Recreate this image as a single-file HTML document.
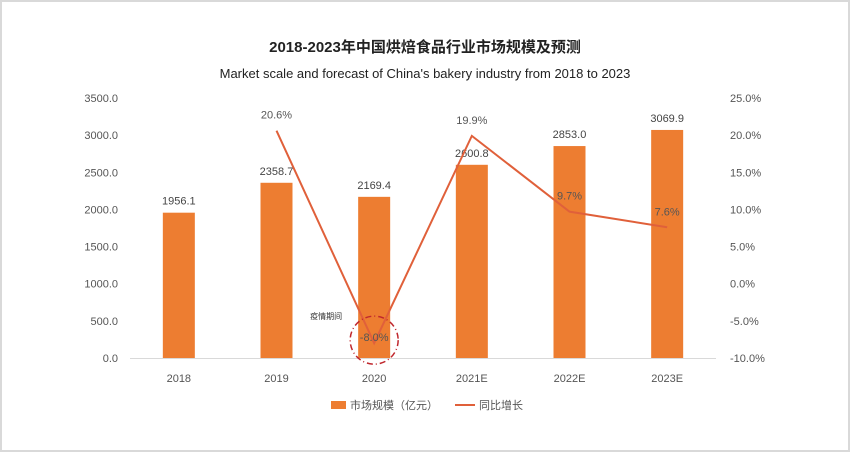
<!DOCTYPE html>
<html><head><meta charset="utf-8"><style>
body{margin:0;background:#fff}
#wrap{position:relative;width:846px;height:448px;border:2px solid #d9d9d9;background:#fff}
svg{position:absolute;left:-2px;top:-2px}
text{font-family:"Liberation Sans","Noto Sans CJK SC",sans-serif}
</style></head><body>
<div id="wrap">
<svg id="chart" width="850" height="452">
<text x="425" y="52" text-anchor="middle" font-size="15" font-weight="bold" fill="#222">2018-2023年中国烘焙食品行业市场规模及预测</text>
<text x="425" y="78" text-anchor="middle" font-size="13" fill="#222">Market scale and forecast of China's bakery industry from 2018 to 2023</text>
</svg>
</div>
<script>
const categories=["2018","2019","2020","2021E","2022E","2023E"];
const marketSize=[1956.1,2358.7,2169.4,2600.8,2853.0,3069.9];
const growth=[null,20.6,-8.0,19.9,9.7,7.6];
const leftTicks=[0,500,1000,1500,2000,2500,3000,3500];
const rightTicks=[-10,-5,0,5,10,15,20,25];
const svg=document.getElementById('chart');
const NS='http://www.w3.org/2000/svg';
const x0=130,x1=716,yTop=98,yBot=358;
const yL=v=>yBot-(v/3500)*(yBot-yTop);
const yR=v=>yBot-((v+10)/35)*(yBot-yTop);
const bw=(x1-x0)/categories.length;
const xc=i=>x0+bw*(i+0.5);
function mk(tag,attrs,txt){const e=document.createElementNS(NS,tag);for(const k in attrs)e.setAttribute(k,attrs[k]);if(txt!=null)e.textContent=txt;svg.appendChild(e);return e;}
leftTicks.forEach(t=>{const e=mk('text',{x:118,y:yL(t)+4,'text-anchor':'end','font-size':11,fill:'#555'},t.toFixed(1));

});
rightTicks.forEach(t=>{const e=mk('text',{x:730,y:yR(t)+4,'font-size':11,fill:'#555'},t.toFixed(1)+'%');

});
const base=mk('line',{x1:x0,x2:x1,y1:yBot+0.5,y2:yBot+0.5,stroke:'#d9d9d9'});


categories.forEach((c,i)=>{
const b=mk('rect',{x:xc(i)-16,y:yL(marketSize[i]),width:32,height:yBot-yL(marketSize[i]),fill:'#ed7d31'});


const l=mk('text',{x:xc(i),y:yL(marketSize[i])-8,'text-anchor':'middle','font-size':11,fill:'#444'},marketSize[i].toFixed(1));


const t=mk('text',{x:xc(i),y:382,'text-anchor':'middle','font-size':11,fill:'#555'},c);


});
let pts=[];growth.forEach((g,i)=>{if(g!=null)pts.push(xc(i)+','+yR(g));});
const line=mk('polyline',{points:pts.join(' '),fill:'none',stroke:'#e0603a','stroke-width':2});


growth.forEach((g,i)=>{if(g==null)return;
const l=mk('text',{x:xc(i),y:yR(g)+(g<0?-2:-12),'text-anchor':'middle','font-size':11,fill:'#555'},g.toFixed(1)+'%');

});
const circ=mk('circle',{cx:xc(2),cy:yR(growth[2])-3,r:24,fill:'none',stroke:'#c0272d','stroke-width':1.5,'stroke-dasharray':'6 3 1 3'});


const note=mk('text',{x:xc(2)-64,y:319,'font-size':8,fill:'#333'},'疫情期间');


const lg1=mk('rect',{x:331,y:401,width:15,height:8,fill:'#ed7d31'});


const lt1=mk('text',{x:350,y:409,'font-size':11,fill:'#555'},'市场规模（亿元）');


const lg2=mk('line',{x1:455,x2:475,y1:405,y2:405,stroke:'#e0603a','stroke-width':2});


const lt2=mk('text',{x:479,y:409,'font-size':11,fill:'#555'},'同比增长');


</script>
</body></html>
